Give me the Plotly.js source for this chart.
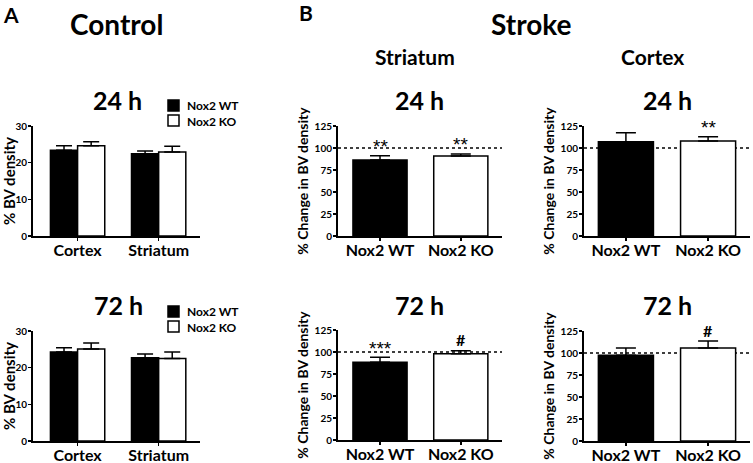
<!DOCTYPE html>
<html><head><meta charset="utf-8">
<script src="https://cdn.plot.ly/plotly-3.0.1.min.js"></script>
<style>html,body{margin:0;padding:0;background:#fff}#chart{width:753px;height:463px}</style>
</head><body><div id="chart"></div>
<script>
// ---- data ----
const controlCats = ['Cortex', 'Striatum'];
const strokeCats = ['Nox2 WT', 'Nox2 KO'];
const seriesNames = ['Nox2 WT', 'Nox2 KO'];

const ctrl24WT = [23.4, 22.4];
const ctrl24WTerr = [1.2, 0.8];
const ctrl24KO = [24.6, 22.9];
const ctrl24KOerr = [1.1, 1.6];

const ctrl72WT = [24.3, 22.7];
const ctrl72WTerr = [1.1, 1.0];
const ctrl72KO = [25.1, 22.5];
const ctrl72KOerr = [1.6, 1.8];

const str24 = [86.4, 90.9];
const str24err = [4.9, 2.3];
const str72 = [88.3, 98.1];
const str72err = [5.7, 3.4];
const ctx24 = [107.2, 108.0];
const ctx24err = [10.2, 4.8];
const ctx72 = [97.4, 105.7];
const ctx72err = [8.3, 7.9];

const sigStr24 = ['**', '**'];
const sigStr72 = ['***', '#'];
const sigCtx24 = ['', '**'];
const sigCtx72 = ['', '#'];

const controlRange = [0, 30];
const strokeRange = [0, 125];
const refLine = 100;

// ---- layout helpers ----
const W = 753, H = 463;
const FONT = 'Lato, "Open Sans", sans-serif';
const dx = (a, b) => [a / W, b / W];
const dy = (top, bot) => [1 - bot / H, 1 - top / H];

function xAxis(dom, anchor, rng) {
  return {domain: dom, anchor: anchor, range: rng, type: 'category',
    showline: true, linewidth: 2, linecolor: '#000', ticks: 'outside', ticklen: 3, tickwidth: 1.5,
    tickcolor: '#000', showgrid: false, zeroline: false, fixedrange: true, ticklabelstandoff: -4,
    tickfont: {family: FONT, size: 16, color: '#000', weight: 'bold'}};
}
function yAxis(dom, anchor, rng, dtick, title, tsize, standoff) {
  return {domain: dom, anchor: anchor, range: rng, dtick: dtick, tick0: 0,
    showline: true, linewidth: 2, linecolor: '#000', ticks: 'outside', ticklen: 3, tickwidth: 1.5,
    tickcolor: '#000', showgrid: false, zeroline: false, fixedrange: true, ticklabelstandoff: -1,
    tickfont: {family: FONT, size: 10, color: '#000', weight: 'bold'},
    title: {text: title, standoff: standoff, font: {family: FONT, size: tsize, color: '#000', weight: 'bold'}}};
}

function ctrlBar(name, cats, vals, errs, fill, xa, ya) {
  return {type: 'bar', name: name, x: cats, y: vals, xaxis: xa, yaxis: ya,
    offsetgroup: name, showlegend: false,
    marker: {color: fill, line: {color: '#000', width: 1.5}},
    error_y: {type: 'data', symmetric: false, array: errs, arrayminus: errs.map(() => 0),
      color: '#000', thickness: 1.5, width: 8}};
}
function strokeBar(vals, errs, xa, ya) {
  return {type: 'bar', x: strokeCats, y: vals, xaxis: xa, yaxis: ya, showlegend: false,
    marker: {color: ['#000', '#fff'], line: {color: '#000', width: 1.5}},
    error_y: {type: 'data', symmetric: false, array: errs, arrayminus: errs.map(() => 0),
      color: '#000', thickness: 1.5, width: 10}};
}

const data = [
  ctrlBar(seriesNames[0], controlCats, ctrl24WT, ctrl24WTerr, '#000', 'x', 'y'),
  ctrlBar(seriesNames[1], controlCats, ctrl24KO, ctrl24KOerr, '#fff', 'x', 'y'),
  ctrlBar(seriesNames[0], controlCats, ctrl72WT, ctrl72WTerr, '#000', 'x2', 'y2'),
  ctrlBar(seriesNames[1], controlCats, ctrl72KO, ctrl72KOerr, '#fff', 'x2', 'y2'),
  strokeBar(str24, str24err, 'x3', 'y3'),
  strokeBar(str72, str72err, 'x4', 'y4'),
  strokeBar(ctx24, ctx24err, 'x5', 'y5'),
  strokeBar(ctx72, ctx72err, 'x6', 'y6')
];

const annotations = [];
function txt(text, x, y, size, extra) {
  annotations.push(Object.assign({text: text, x: x / W, y: 1 - y / H, xref: 'paper', yref: 'paper',
    xanchor: 'center', yanchor: 'middle', showarrow: false,
    font: {family: FONT, size: size, color: '#000', weight: 'bold'}}, extra || {}));
}
txt('A', 11, 15, 21);
txt('B', 306, 12, 21);
txt('Control', 116, 24, 28);
txt('Stroke', 531, 24, 28);
txt('Striatum', 415, 56, 21);
txt('Cortex', 652, 56, 21);
txt('24 h', 117, 100, 25);
txt('72 h', 118, 305, 25);
txt('24 h', 420, 100, 25);
txt('72 h', 420, 305, 25);
txt('24 h', 667, 100, 25);
txt('72 h', 667, 305, 25);

// legends (text)
function legendText(yMid) {
  annotations.push({text: seriesNames.join('<br>'), x: 185 / W, y: 1 - yMid / H, xref: 'paper', yref: 'paper',
    xanchor: 'left', yanchor: 'middle', align: 'left', showarrow: false,
    font: {family: FONT, size: 12, color: '#000', weight: 'bold'}});
}
legendText(113);
legendText(319);

function sig(labels, vals, errs, xa, ya) {
  labels.forEach((t, i) => {
    if (!t) return;
    const hash = t.indexOf('#') >= 0;
    annotations.push({text: t, x: strokeCats[i], y: vals[i] + errs[i], xref: xa, yref: ya,
      xanchor: 'center', yanchor: 'middle', yshift: hash ? 11 : 9, showarrow: false,
      font: hash ? {family: FONT, size: 16, color: '#000', weight: 'bold'}
                 : {family: '"Liberation Sans", Arial, sans-serif', size: 19, color: '#000', weight: 'normal'}});
  });
}
sig(sigStr24, str24, str24err, 'x3', 'y3');
sig(sigStr72, str72, str72err, 'x4', 'y4');
sig(sigCtx24, ctx24, ctx24err, 'x5', 'y5');
sig(sigCtx72, ctx72, ctx72err, 'x6', 'y6');

const shapes = [];
[['x3', 'y3'], ['x4', 'y4'], ['x5', 'y5'], ['x6', 'y6']].forEach(([xa, ya]) => {
  shapes.push({type: 'line', xref: xa + ' domain', x0: 0, x1: 1, yref: ya, y0: refLine, y1: refLine,
    layer: 'below', line: {color: '#000', width: 1.5, dash: 'dot'}});
});
function legendKey(fill, mid) {
  shapes.push({type: 'rect', xref: 'paper', yref: 'paper', x0: 168 / W, x1: 179 / W,
    y0: 1 - (mid + 5.5) / H, y1: 1 - (mid - 5.5) / H, fillcolor: fill, line: {color: '#000', width: 1.5}});
}
legendKey('#000', 105.5); legendKey('#fff', 120.5);
legendKey('#000', 311.5); legendKey('#fff', 326.5);

const layout = {
  width: W, height: H, margin: {l: 0, r: 0, t: 0, b: 0},
  paper_bgcolor: '#fff', plot_bgcolor: 'rgba(0,0,0,0)',
  barmode: 'group', bargap: 0.33, bargroupgap: 0, showlegend: false,
  font: {family: FONT, color: '#000'},
  xaxis: xAxis(dx(33, 200), 'y', [-0.55, 1.51]),
  yaxis: yAxis(dy(126, 236), 'x', controlRange, 10, '% BV density', 15, 3),
  xaxis2: xAxis(dx(33, 200), 'y2', [-0.55, 1.51]),
  yaxis2: yAxis(dy(331, 441), 'x2', controlRange, 10, '% BV density', 15, 3),
  xaxis3: xAxis(dx(338, 502), 'y3', [-0.52, 1.51]),
  yaxis3: yAxis(dy(126, 236), 'x3', strokeRange, 25, '% Change in BV density', 14, 3),
  xaxis4: xAxis(dx(338, 502), 'y4', [-0.52, 1.51]),
  yaxis4: yAxis(dy(330, 440), 'x4', strokeRange, 25, '% Change in BV density', 14, 3),
  xaxis5: xAxis(dx(584, 750), 'y5', [-0.51, 1.51]),
  yaxis5: yAxis(dy(126, 236), 'x5', strokeRange, 25, '% Change in BV density', 14, 3),
  xaxis6: xAxis(dx(584, 750), 'y6', [-0.51, 1.51]),
  yaxis6: yAxis(dy(331, 441), 'x6', strokeRange, 25, '% Change in BV density', 14, 3),
  annotations: annotations, shapes: shapes
};

Plotly.newPlot('chart', data, layout, {staticPlot: true, displayModeBar: false});
</script></body></html>
